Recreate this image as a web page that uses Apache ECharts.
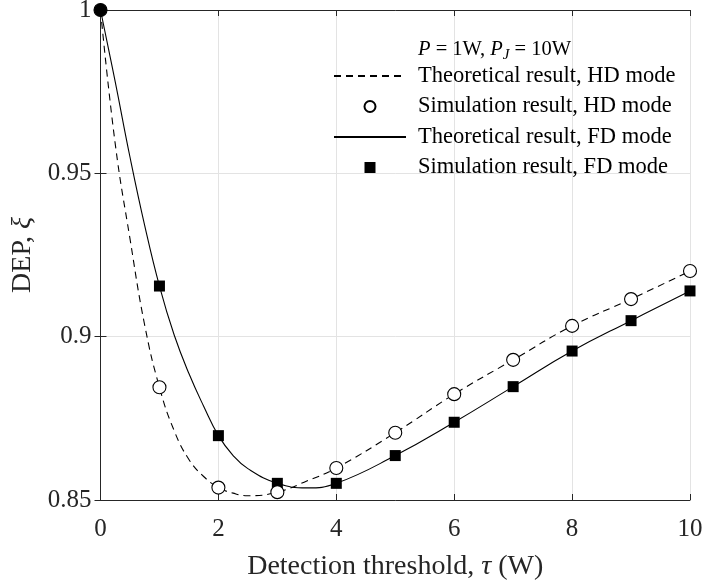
<!DOCTYPE html>
<html lang="en">
  <head>
    <meta charset="UTF-8" />
    <title>DEP vs detection threshold</title>
    <style type="text/css">
      body {
        margin: 0;
        background-color: #fff;
      }

      #main {
        width: 705px;
        height: 581px;
      }
    </style>
  </head>
  <body>
    <div id="main"></div>
    <script src="https://cdn.jsdelivr.net/npm/echarts@6/dist/echarts.min.js"></script>
    <script type="text/javascript">
      // x positions (W) of the theoretical curves
      var theoX = [0, 0.25, 0.5, 0.75, 1, 1.25, 1.5, 1.75, 2, 2.25, 2.5, 3, 3.5, 4, 5, 6, 7, 8, 9, 10];
      var theoHD = [1.0, 0.959, 0.930, 0.9035, 0.8845, 0.8712, 0.8624, 0.8572, 0.8538, 0.8521, 0.8513, 0.8524, 0.8558, 0.8598, 0.8706, 0.8824, 0.8929, 0.9033, 0.9115, 0.9201];
      var theoFD = [1.0, 0.978, 0.955, 0.934, 0.9155, 0.9005, 0.8887, 0.8787, 0.8697, 0.8636, 0.8596, 0.8551, 0.8537, 0.8551, 0.8636, 0.8738, 0.8847, 0.8956, 0.9049, 0.914];

      // simulation points
      var simX = [0, 1, 2, 3, 4, 5, 6, 7, 8, 9, 10];
      var simHD = [1.0, 0.8845, 0.8538, 0.8524, 0.8598, 0.8706, 0.8824, 0.8929, 0.9033, 0.9115, 0.9201];
      var simFD = [1.0, 0.9155, 0.8697, 0.8551, 0.8551, 0.8636, 0.8738, 0.8847, 0.8956, 0.9049, 0.914];

      var xTicks = { min: 0, max: 10, step: 2 };
      var yTicks = { min: 0.85, max: 1, step: 0.05 };

      var seriesNames = [
        "Theoretical result, HD mode",
        "Simulation result, HD mode",
        "Theoretical result, FD mode",
        "Simulation result, FD mode",
      ];

      function pairs(xs, ys) {
        return xs.map(function (x, i) {
          return [x, ys[i]];
        });
      }

      var font = "Liberation Serif";
      var ink = "#262626";

      var chartDom = document.getElementById("main");
      var myChart = echarts.init(chartDom, null, { renderer: "canvas" });

      var hdSim = pairs(simX, simHD);
      // the marker at the origin is drawn filled in the figure
      hdSim[0] = { value: hdSim[0], itemStyle: { color: "#000" } };
      // FD square at x = 0 is hidden under that marker
      var fdSim = pairs(simX, simFD).slice(1);

      var axisCommon = {
        axisLine: { lineStyle: { color: ink, width: 1 } },
        axisTick: { inside: true, length: 6, lineStyle: { color: ink } },
        splitLine: { show: true, lineStyle: { color: "#e3e3e3", width: 1 } },
        axisLabel: { color: ink, fontFamily: font, fontSize: 25 },
      };

      var nameStyle = {
        fontFamily: font,
        fontSize: 28,
        color: ink,
        rich: {
          t: { fontFamily: font, fontSize: 28, color: ink },
          i: { fontFamily: font, fontStyle: "italic", fontSize: 28, color: ink },
        },
      };

      var option = {
        animation: false,
        backgroundColor: "#fff",
        textStyle: { fontFamily: font },
        title: {
          text: "{i|P} = 1W, {i|P}{s|J} = 10W",
          left: 418,
          top: 36,
          padding: 0,
          textStyle: {
            fontFamily: font,
            fontWeight: "normal",
            fontSize: 20.5,
            color: "#000",
            lineHeight: 27,
            rich: {
              i: { fontFamily: font, fontStyle: "italic", fontSize: 20.5, color: "#000", lineHeight: 27 },
              s: { fontFamily: font, fontStyle: "italic", fontSize: 15, color: "#000", lineHeight: 15, verticalAlign: "bottom" },
            },
          },
        },
        legend: {
          orient: "vertical",
          left: 333,
          top: 64,
          padding: 0,
          itemWidth: 72,
          itemHeight: 11,
          itemGap: 6.5,
          symbolKeepAspect: true,
          data: [
            { name: seriesNames[0], itemStyle: { opacity: 0 } },
            { name: seriesNames[1] },
            { name: seriesNames[2], itemStyle: { opacity: 0 } },
            { name: seriesNames[3], icon: "path://M0,0h10v10h-10z" },
          ],
          textStyle: {
            fontFamily: font,
            fontSize: 22.5,
            color: "#000",
            lineHeight: 24,
            padding: [0, 0, 0, 7],
          },
        },
        grid: { left: 100.5, right: 15, top: 10, bottom: 81, outerBoundsMode: "none" },
        xAxis: [
          Object.assign({}, axisCommon, {
            type: "value",
            min: xTicks.min,
            max: xTicks.max,
            interval: xTicks.step,
            name: "{t|Detection threshold,} {i|τ} {t|(W)}",
            nameLocation: "middle",
            nameGap: 53,
            nameTextStyle: nameStyle,
            axisLabel: Object.assign({}, axisCommon.axisLabel, { margin: 17 }),
          }),
          {
            type: "value",
            position: "top",
            min: xTicks.min,
            max: xTicks.max,
            interval: xTicks.step,
            axisLine: { lineStyle: { color: ink, width: 1 } },
            axisTick: { inside: true, length: 6, lineStyle: { color: ink } },
            axisLabel: { show: false },
            splitLine: { show: false },
          },
        ],
        yAxis: [
          Object.assign({}, axisCommon, {
            type: "value",
            min: yTicks.min,
            max: yTicks.max,
            interval: yTicks.step,
            name: "{t|DEP,} {i|ξ}",
            nameLocation: "middle",
            nameGap: 57,
            nameTextStyle: nameStyle,
            axisLabel: Object.assign({}, axisCommon.axisLabel, { margin: 9 }),
          }),
          {
            type: "value",
            position: "right",
            min: yTicks.min,
            max: yTicks.max,
            interval: yTicks.step,
            axisLine: { lineStyle: { color: ink, width: 1 } },
            axisTick: { inside: true, length: 6, lineStyle: { color: ink } },
            axisLabel: { show: false },
            splitLine: { show: false },
          },
        ],
        series: [
          {
            name: seriesNames[0],
            type: "line",
            data: pairs(theoX, theoHD),
            smooth: 0.45,
            symbol: "none",
            lineStyle: { color: "#000", width: 1.1, type: [7, 5] },
            itemStyle: { color: "#000" },
            z: 2,
          },
          {
            name: seriesNames[1],
            type: "scatter",
            data: hdSim,
            symbol: "circle",
            symbolSize: 13,
            clip: false,
            itemStyle: { color: "#fff", borderColor: "#000", borderWidth: 1.1, opacity: 1 },
            z: 4,
          },
          {
            name: seriesNames[2],
            type: "line",
            data: pairs(theoX, theoFD),
            smooth: 0.45,
            symbol: "none",
            lineStyle: { color: "#000", width: 1.1, type: "solid" },
            itemStyle: { color: "#000" },
            z: 2,
          },
          {
            name: seriesNames[3],
            type: "scatter",
            data: fdSim,
            symbol: "rect",
            symbolSize: 11,
            clip: false,
            itemStyle: { color: "#000", opacity: 1 },
            z: 3,
          },
        ],
      };

      myChart.setOption(option);
    </script>
  </body>
</html>
